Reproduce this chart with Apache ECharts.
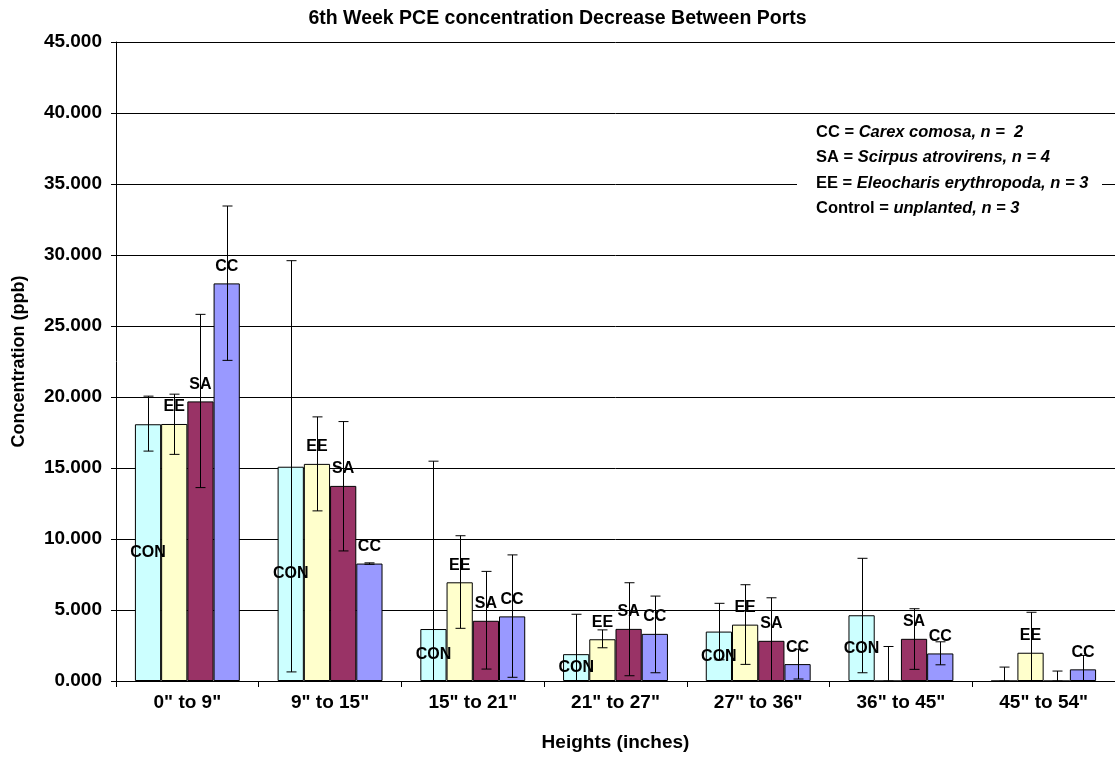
<!DOCTYPE html>
<html><head><meta charset="utf-8">
<script src="https://cdn.jsdelivr.net/npm/echarts@6/dist/echarts.min.js"></script>
<style>html,body{margin:0;padding:0;background:#fff}#c{width:1115px;height:757px}</style>
</head><body><div id="c"></div>
<script>
const categories = ['0" to 9"', '9" to 15"', '15" to 21"', '21" to 27"', '27" to 36"', '36" to 45"', '45" to 54"'];
const seriesNames = ['CON', 'EE', 'SA', 'CC'];
const conValues = [18.08, 15.09, 3.66, 1.89, 3.48, 4.63, 0];
const eeValues  = [18.10, 15.29, 6.95, 2.94, 3.97, 0, 1.99];
const saValues  = [19.69, 13.74, 4.24, 3.67, 2.83, 2.97, 0];
const ccValues  = [28.00, 8.27, 4.55, 3.32, 1.19, 1.94, 0.82];
const conErrHigh = [20.06, 29.60, 15.48, 4.70, 5.47, 8.64, 0.98];
const conErrLow  = [16.19, 0.64, 0, 0, 1.49, 0.58, 0];
const eeErrHigh  = [20.20, 18.60, 10.23, 3.60, 6.78, 2.43, 4.84];
const eeErrLow   = [15.96, 11.98, 3.71, 2.34, 1.17, 0, 0];
const saErrHigh  = [25.82, 18.27, 7.72, 6.92, 5.86, 5.09, 0.70];
const saErrLow   = [13.62, 9.16, 0.84, 0.37, 0, 0.82, 0];
const ccErrHigh  = [33.45, 8.32, 8.88, 5.98, 2.24, 2.76, 1.80];
const ccErrLow   = [22.58, 8.22, 0.26, 0.58, 0.14, 1.14, 0];
const yMin = 0, yMax = 45, yStep = 5;
const legendLines = [
  ['CC = ', 'Carex comosa, n =  2'],
  ['SA = ', 'Scirpus atrovirens, n = 4'],
  ['EE = ', 'Eleocharis erythropoda, n = 3'],
  ['Control = ', 'unplanted, n = 3']
];

const FONT = '"Liberation Sans", Arial, sans-serif';
const colors = ['#CCFFFF', '#FFFFCC', '#993366', '#9999FF'];
const values = [conValues, eeValues, saValues, ccValues];
const errHigh = [conErrHigh, eeErrHigh, saErrHigh, ccErrHigh];
const errLow = [conErrLow, eeErrLow, saErrLow, ccErrLow];
const GAP = 0.265;

function errRenderer(idx) {
  return function (params, api) {
    const ci = api.value(0), hi = api.value(1), lo = api.value(2);
    const band = api.size([1, 0])[0];
    const bw = band * (1 - GAP) / 4;
    const x = Math.round(api.coord([ci, 0])[0] + (idx - 1.5) * bw) + 0.5;
    const yH = api.coord([ci, hi])[1], yL = api.coord([ci, lo])[1];
    const cap = 5, st = { stroke: '#000', lineWidth: 1 };
    return { type: 'group', children: [
      { type: 'line', shape: { x1: x, y1: yH, x2: x, y2: yL }, style: st },
      { type: 'line', shape: { x1: x - cap, y1: yH, x2: x + cap, y2: yH }, style: st },
      { type: 'line', shape: { x1: x - cap, y1: yL, x2: x + cap, y2: yL }, style: st }
    ]};
  };
}

const series = [];
seriesNames.forEach((name, i) => {
  series.push({
    name, type: 'bar', data: values[i],
    barGap: '0%', barCategoryGap: (GAP * 100) + '%',
    itemStyle: { color: colors[i], borderColor: '#000', borderWidth: 1 },
    label: {
      show: true,
      position: i === 0 ? 'inside' : 'top',
      distance: 9,
      formatter: p => p.value > 0 ? name : '',
      fontFamily: FONT, fontWeight: 'bold', fontSize: 16, color: '#000'
    },
    z: 2
  });
});
seriesNames.forEach((name, i) => {
  series.push({
    name: name + ' err', type: 'custom',
    renderItem: errRenderer(i),
    data: categories.map((c, k) => [k, errHigh[i][k], errLow[i][k]]),
    encode: { x: 0, y: [1, 2] },
    z: 5, silent: true
  });
});

const graphics = [
  { type: 'rect', shape: { x: 797, y: 118, width: 305, height: 102 }, style: { fill: '#fff' }, z: 100 }
];
legendLines.forEach((ln, k) => {
  graphics.push({
    type: 'text', left: 816, top: 124 + k * 25.3, z: 101,
    style: {
      text: '{b|' + ln[0] + '}{i|' + ln[1] + '}',
      rich: {
        b: { fontFamily: FONT, fontWeight: 'bold', fontSize: 16.5, fill: '#000' },
        i: { fontFamily: FONT, fontWeight: 'bold', fontStyle: 'italic', fontSize: 16.5, fill: '#000' }
      }
    }
  });
});

const chart = echarts.init(document.getElementById('c'));
chart.setOption({
  backgroundColor: '#fff',
  animation: false,
  title: {
    text: '6th Week PCE concentration Decrease Between Ports',
    left: 'center', top: 4,
    textStyle: { fontFamily: FONT, fontWeight: 'bold', fontSize: 19.5, color: '#000' }
  },
  grid: { left: 116, top: 42, width: 1003, height: 643, containLabel: false },
  xAxis: {
    type: 'category', data: categories,
    name: 'Heights (inches)', nameLocation: 'middle', nameGap: 52,
    nameTextStyle: { fontFamily: FONT, fontWeight: 'bold', fontSize: 19, color: '#000' },
    axisLine: { lineStyle: { color: '#000', width: 1 } },
    axisTick: { show: true, length: 6, lineStyle: { color: '#000' } },
    axisLabel: { fontFamily: FONT, fontWeight: 'bold', fontSize: 19, color: '#000', margin: 12 }
  },
  yAxis: {
    type: 'value', min: yMin, max: yMax, interval: yStep,
    name: 'Concentration (ppb)', nameLocation: 'middle', nameGap: 88,
    nameTextStyle: { fontFamily: FONT, fontWeight: 'bold', fontSize: 18, color: '#000' },
    axisLine: { show: true, lineStyle: { color: '#000', width: 1 } },
    axisTick: { show: true, length: 5, lineStyle: { color: '#000' } },
    axisLabel: { fontFamily: FONT, fontWeight: 'bold', fontSize: 19, color: '#000', margin: 14,
      formatter: v => v.toFixed(3) },
    splitLine: { show: true, lineStyle: { color: '#000', width: 1 } }
  },
  series,
  graphic: graphics
});
</script>
</body></html>
